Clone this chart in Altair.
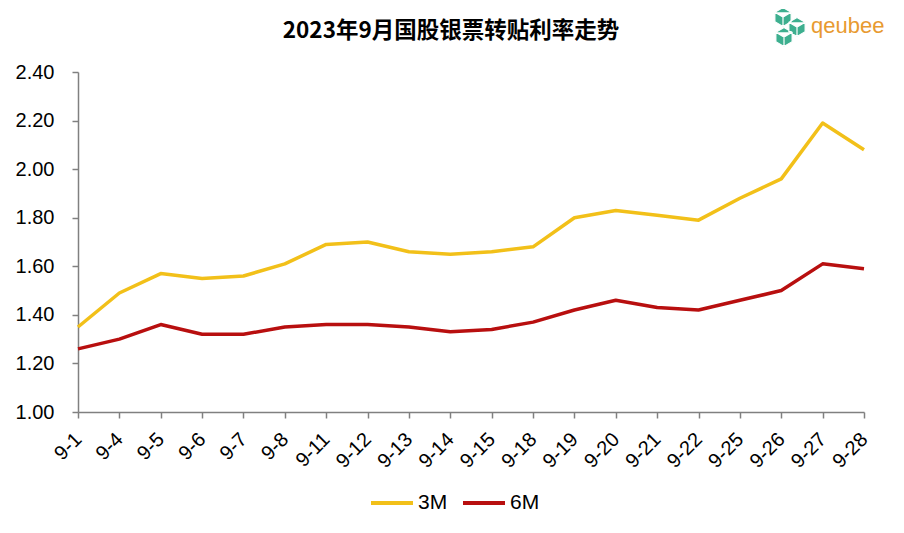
import altair as alt
import pandas as pd

TITLE = "2023年9月国股银票转贴利率走势"
LOGO = "qeubee"
dates = ["9-1", "9-4", "9-5", "9-6", "9-7", "9-8", "9-11", "9-12", "9-13", "9-14",
         "9-15", "9-18", "9-19", "9-20", "9-21", "9-22", "9-25", "9-26", "9-27", "9-28"]
rate_3m = [1.35, 1.49, 1.57, 1.55, 1.56, 1.61, 1.69, 1.70, 1.66, 1.65,
           1.66, 1.68, 1.80, 1.83, 1.81, 1.79, 1.88, 1.96, 2.19, 2.08]
rate_6m = [1.26, 1.30, 1.36, 1.32, 1.32, 1.35, 1.36, 1.36, 1.35, 1.33,
           1.34, 1.37, 1.42, 1.46, 1.43, 1.42, 1.46, 1.50, 1.61, 1.59]
series = ["3M", "6M"]
colors = ["#F2C019", "#B80F0F"]
y_ticks = [1.0, 1.2, 1.4, 1.6, 1.8, 2.0, 2.2, 2.4]

rows = []
for d, a, b in zip(dates, rate_3m, rate_6m):
    rows.append({"date": d, "series": "3M", "rate": a})
    rows.append({"date": d, "series": "6M", "rate": b})
df = pd.DataFrame(rows)

W, H = 786, 340

lines = alt.Chart(df).mark_line(strokeWidth=3.5, strokeJoin="round").encode(
    x=alt.X("date:N", sort=dates, title=None,
            scale=alt.Scale(type="point", padding=0),
            axis=alt.Axis(labelAngle=-45, labelAlign="right", labelBaseline="middle",
                          labelFontSize=20, labelFont="Liberation Sans", labelColor="#000000",
                          labelPadding=18, labelOffset=0, labelOverlap=False,
                          domainColor="#808080", domainWidth=1.5,
                          tickColor="#808080", tickWidth=1.5, tickSize=6, grid=False)),
    y=alt.Y("rate:Q", title=None,
            scale=alt.Scale(domain=[1.0, 2.4], nice=False, zero=False),
            axis=alt.Axis(values=y_ticks, format=".2f", labelFontSize=20,
                          labelFont="Liberation Sans", labelColor="#000000", labelPadding=18,
                          domainColor="#808080", domainWidth=1.5,
                          tickColor="#808080", tickWidth=1.5, tickSize=6, grid=False)),
    color=alt.Color("series:N", sort=series,
                    scale=alt.Scale(domain=series, range=colors),
                    legend=alt.Legend(title=None, orient="none", legendX=291, legendY=408,
                                      direction="horizontal", symbolType="stroke",
                                      symbolSize=1764, symbolStrokeWidth=4,
                                      labelFontSize=21, labelFont="Liberation Sans",
                                      labelColor="#000000", labelOffset=3,
                                      columnPadding=7, padding=0)),
)

title = alt.Chart(pd.DataFrame({"t": [TITLE]})).mark_text(
    font="Noto Sans CJK SC", fontSize=22.5, fontWeight="bold", color="#000000",
    align="center", baseline="middle"
).encode(text="t:N", x=alt.value(W / 2 - 20), y=alt.value(-41))

logo_text = alt.Chart(pd.DataFrame({"t": [LOGO]})).mark_text(
    font="Liberation Sans", fontSize=22, color="#E89A30", align="left", baseline="middle"
).encode(text="t:N", x=alt.value(733), y=alt.value(-46))


def cube(cx, cy, r=0.47):
    dx, dy = 0.866 * r, 0.5 * r
    pts = [(cx, cy - r), (cx + dx, cy - dy), (cx + dx, cy + dy), (cx, cy + r),
           (cx - dx, cy + dy), (cx - dx, cy - dy)]
    p = "M " + " L ".join(f"{x:.3f} {y:.3f}" for x, y in pts) + " Z "
    p += (f"M {cx:.3f} {cy:.3f} L {cx:.3f} {cy + r:.3f} "
          f"M {cx - dx:.3f} {cy - dy:.3f} L {cx:.3f} {cy:.3f} L {cx + dx:.3f} {cy - dy:.3f} ")
    return p


cube_path = cube(-0.3, -0.5) + cube(0.4, 0.0) + cube(-0.25, 0.5)
logo_cubes = alt.Chart(pd.DataFrame({"t": ["logo"]})).mark_point(
    shape=cube_path, size=1600, filled=True, fill="#3DAF8F", stroke="#FFFFFF",
    strokeWidth=1.2, opacity=1
).encode(x=alt.value(711), y=alt.value(-45))

chart = alt.layer(lines, title, logo_text, logo_cubes).properties(
    width=W, height=H,
    autosize=alt.AutoSizeParams(type="none"),
    padding={"left": 70, "top": 64, "right": 30, "bottom": 115},
).configure_view(stroke=None)

chart.save("out.html", embed_options={"renderer": "svg", "actions": False})
